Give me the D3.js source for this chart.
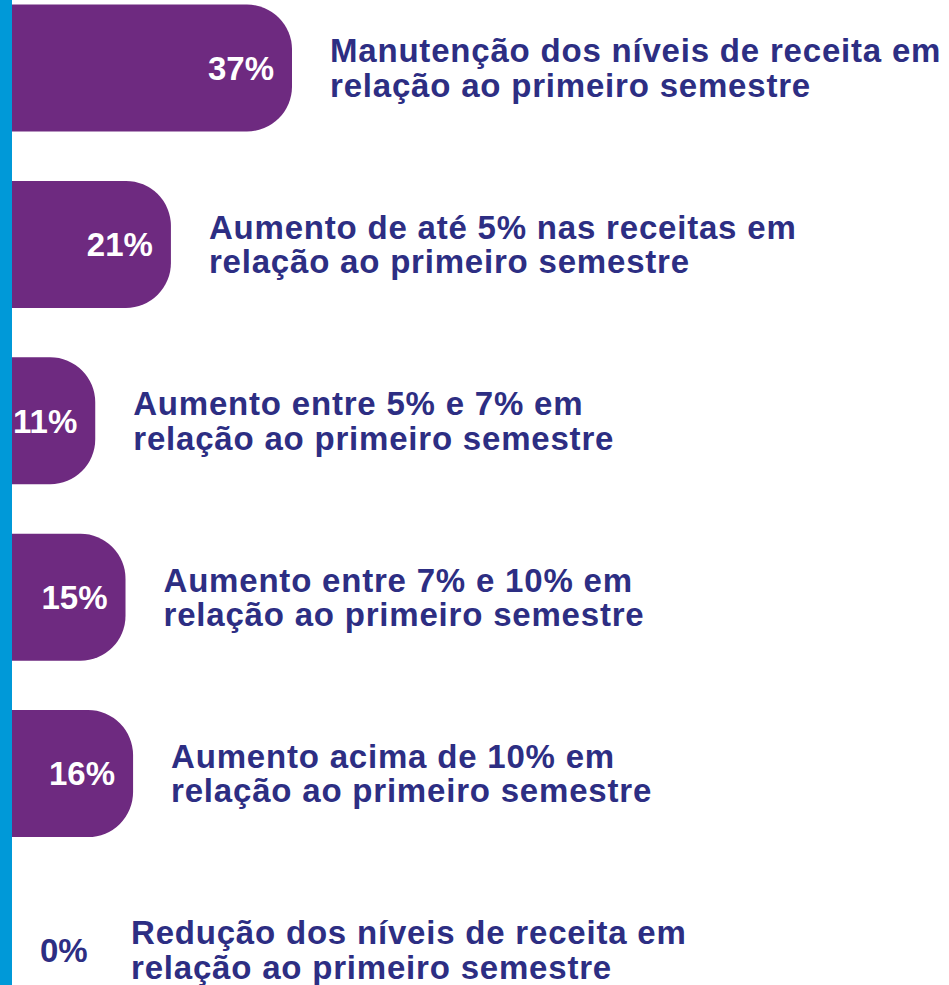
<!DOCTYPE html>
<html>
<head>
<meta charset="utf-8">
<script src="https://cdn.jsdelivr.net/npm/d3@7"></script>
<style>
  body { margin: 0; background: #fff; }
  svg { display: block; }
</style>
</head>
<body>
<div class="chart"></div>
<script>
// values
var categories = [
  "Manutenção dos níveis de receita em|relação ao primeiro semestre",
  "Aumento de até 5% nas receitas em|relação ao primeiro semestre",
  "Aumento entre 5% e 7% em|relação ao primeiro semestre",
  "Aumento entre 7% e 10% em|relação ao primeiro semestre",
  "Aumento acima de 10% em|relação ao primeiro semestre",
  "Redução dos níveis de receita em|relação ao primeiro semestre"
];
var values = [37, 21, 11, 15, 16, 0];
var valueLabels = ["37%", "21%", "11%", "15%", "16%", "0%"];

var width = 949, height = 985;
var purple = "#6e2a80", navy = "#2d2e83", blue = "#0099d8";
var barH = 127, r = 45;
var font = "'Liberation Sans', Arial, Helvetica, sans-serif";

var data = categories.map(function(c, i) {
  return { cat: c, value: values[i], label: valueLabels[i] };
});

var svg = d3.select(".chart").append("svg")
    .attr("width", width)
    .attr("height", height);

var x = d3.scaleLinear().domain([0, 37]).range([12, 292]);
var y = d3.scalePoint().domain(categories).range([68, 950]);

// blue strip at left
svg.append("rect")
    .attr("x", 0).attr("y", 0)
    .attr("width", x(0)).attr("height", height)
    .attr("fill", blue);

function barPath(d) {
  var x0 = x(0), x1 = x(d.value), yc = y(d.cat);
  var t = yc - barH / 2, b = yc + barH / 2;
  return "M" + x0 + "," + t +
    "H" + (x1 - r) +
    "A" + r + "," + r + " 0 0 1 " + x1 + "," + (t + r) +
    "V" + (b - r) +
    "A" + r + "," + r + " 0 0 1 " + (x1 - r) + "," + b +
    "H" + x0 + "Z";
}

var rows = svg.selectAll(".row")
    .data(data)
  .enter().append("g")
    .attr("class", "row");

rows.filter(function(d) { return d.value > 0; })
  .append("path")
    .attr("d", barPath)
    .attr("fill", purple);

rows.append("text")
    .attr("x", function(d) { return d.value > 0 ? x(d.value) - 18 : 40; })
    .attr("y", function(d) { return y(d.cat); })
    .attr("dy", "0.36em")
    .attr("text-anchor", function(d) { return d.value > 0 ? "end" : "start"; })
    .attr("font-family", font)
    .attr("font-weight", "bold")
    .attr("font-size", 33)
    .attr("fill", function(d) { return d.value > 0 ? "#fff" : navy; })
    .text(function(d) { return d.label; });

var desc = rows.append("text")
    .attr("font-family", font)
    .attr("font-weight", "bold")
    .attr("font-size", 33)
    .attr("letter-spacing", 0.8)
    .attr("fill", navy);

desc.selectAll("tspan")
    .data(function(d) {
      return d.cat.split("|").map(function(line, i) { return { line: line, i: i, d: d }; });
    })
  .enter().append("tspan")
    .attr("x", function(t) { return Math.max(x(t.d.value) + 38, 131); })
    .attr("y", function(t) { return y(t.d.cat) + (t.i === 0 ? -17.5 : 17); })
    .attr("dy", "0.36em")
    .text(function(t) { return t.line; });
</script>
</body>
</html>
